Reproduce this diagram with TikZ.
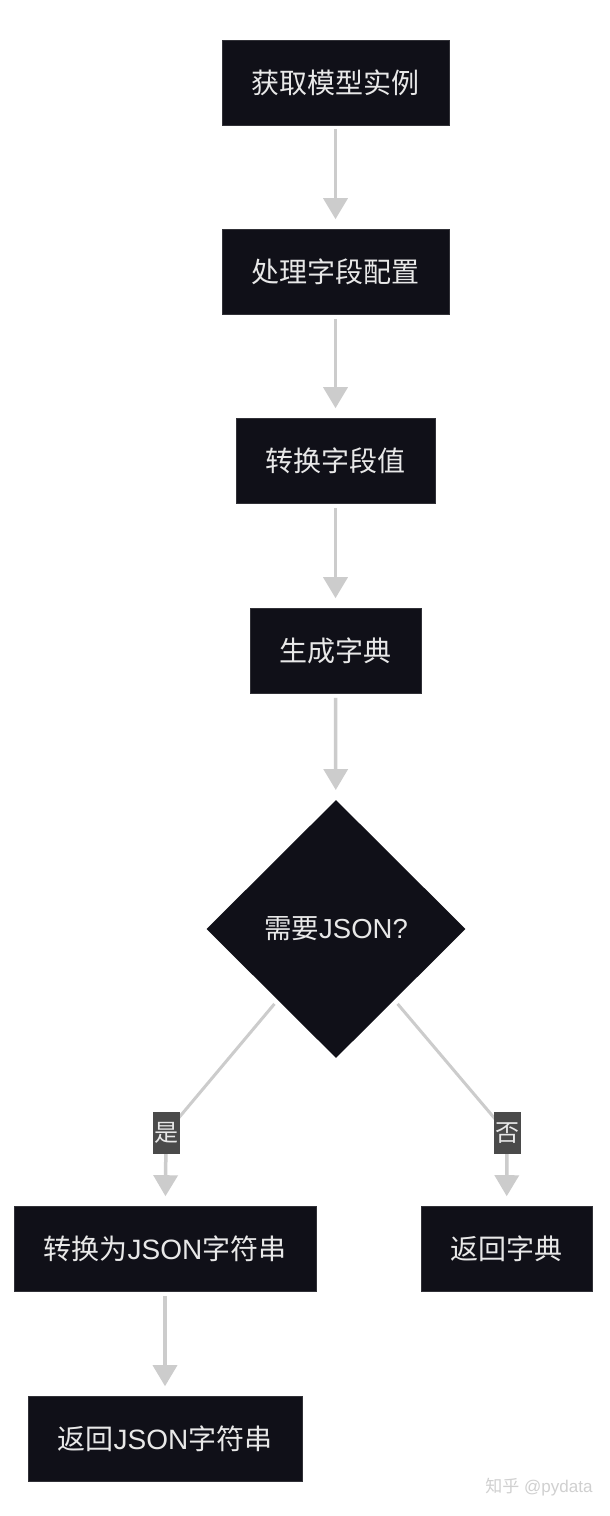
\documentclass[tikz,border=0pt]{standalone}
\usepackage{fontspec}
\setmainfont{Liberation Sans}
\newfontfamily\cjk{Noto Sans CJK SC}
\usetikzlibrary{shapes.geometric,arrows.meta,calc}
\definecolor{boxfill}{HTML}{101018}
\definecolor{boxtext}{HTML}{E8E8E8}
\definecolor{conncol}{HTML}{CCCCCC}
\definecolor{lblfill}{HTML}{4A4A4A}
\definecolor{wmcol}{HTML}{D0D0D0}
\tikzset{
  stepbox/.style={rectangle, fill=boxfill, draw=boxfill!70!gray, line width=0.6pt, text=boxtext,
    minimum height=85pt, inner sep=0pt, font=\fontsize{28}{32}\selectfont\cjk},
  decbox/.style={diamond, fill=boxfill, text=boxtext, minimum width=259pt, minimum height=258pt,
    inner sep=0pt, font=\fontsize{27.5}{32}\selectfont},
  conn/.style={draw=conncol, line width=3.5pt, shorten <=4pt, shorten >=10pt,
    -{Triangle[width=24pt,length=21pt]}},
  branch/.style={draw=conncol, line width=3pt},
  lbl/.style={rectangle, fill=lblfill, text=boxtext, minimum width=27pt, minimum height=42pt,
    inner sep=0pt, font=\fontsize{24}{26}\selectfont\cjk},
}
\begin{document}
\begin{tikzpicture}[x=1pt,y=-1pt]
\useasboundingbox (0,0) rectangle (610,1516);
\fill[white] (0,0) rectangle (610,1516);

\node[stepbox, minimum width=227pt] (b1) at (335.5,82.5) {获取模型实例};
\node[stepbox, minimum width=227pt] (b2) at (335.5,272) {处理字段配置};
\node[stepbox, minimum width=199pt] (b3) at (335.5,461) {转换字段值};
\node[stepbox, minimum width=171pt] (b4) at (335.5,651) {生成字典};
\node[decbox] (d) at (336,929) {{\cjk 需要}JSON?};
\node[stepbox, minimum width=302pt] (b5) at (165,1249) {转换为{\rmfamily JSON}字符串};
\node[stepbox, minimum width=171pt] (b6) at (506.5,1249) {返回字典};
\node[stepbox, minimum width=274pt] (b7) at (165,1439) {返回{\rmfamily JSON}字符串};

\draw[conn] (b1) -- (b2);
\draw[conn] (b2) -- (b3);
\draw[conn] (b3) -- (b4);
\draw[conn] (b4) -- (d);
\draw[conn] (b5) -- (b7);

\coordinate (ls) at ($(d.south)!0.45!(d.west)$);
\coordinate (rs) at ($(d.south)!0.45!(d.east)$);
\coordinate (ybend) at (166,1133);
\coordinate (nbend) at (507,1133);

\draw[branch, shorten <=5pt] (ls) -- (ybend);
\draw[conn, shorten <=0pt] (ybend) -- (b5);
\node[lbl] (yes) at (ybend) {是};

\draw[branch, shorten <=5pt] (rs) -- (nbend);
\draw[conn, shorten <=0pt] (nbend) -- (b6);
\node[lbl] (no) at (nbend) {否};

\node[text=wmcol, anchor=east, font=\fontsize{17}{20}\selectfont] (wm) at (596,1487) {{\cjk 知乎} @pydata};
\end{tikzpicture}
\end{document}
